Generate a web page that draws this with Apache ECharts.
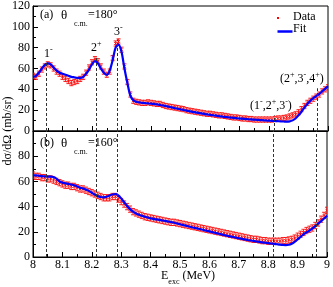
<!DOCTYPE html>
<html><head><meta charset="utf-8">
<script src="https://cdn.jsdelivr.net/npm/echarts@6/dist/echarts.min.js"></script>
<style>html,body{margin:0;padding:0;background:#fff}#c{width:333px;height:287px}</style>
</head><body><div id="c"></div>
<script>
// Excitation energies (MeV)
const energies = [8.00,8.01,8.02,8.03,8.04,8.05,8.06,8.07,8.08,8.09,
8.10,8.11,8.12,8.13,8.14,8.15,8.16,8.17,8.18,8.19,
8.20,8.21,8.22,8.23,8.24,8.25,8.26,8.27,8.28,8.29,
8.30,8.31,8.32,8.33,8.34,8.35,8.36,8.37,8.38,8.39,
8.40,8.41,8.42,8.43,8.44,8.45,8.46,8.47,8.48,8.49,
8.50,8.51,8.52,8.53,8.54,8.55,8.56,8.57,8.58,8.59,
8.60,8.61,8.62,8.63,8.64,8.65,8.66,8.67,8.68,8.69,
8.70,8.71,8.72,8.73,8.74,8.75,8.76,8.77,8.78,8.79,
8.80,8.81,8.82,8.83,8.84,8.85,8.86,8.87,8.88,8.89,
8.90,8.91,8.92,8.93,8.94,8.95,8.96,8.97,8.98,8.99,9.00];

// (a) theta_cm = 180 deg
const dataA = [53,52,55,59,62,64,63,60,57,55,
52,50,48,46,47,48,50,52,56,61,
66,69,67,62,57,54,57,70,84,86,
78,62,47,35,29,28,27.5,27,27,27.5,
27,26.5,26,26,25,24,23.5,23,22.5,22,
21.5,21,20,19.5,19,18.5,18,17.5,17,16.5,
16.5,16,15.5,15,15,14.5,14,13.5,13,13,
12.5,12,12,11.5,11.5,11,11,11,11,11,
11,11,11.5,12,12,12.5,13,14,15,16,
18,21,24,27,29,31,33,35,38,40,42];
const fitA = [52,53,56,60,63.5,65,64,61,58,56,
55,54,53,52,51.5,51,51,52,55,59,
64,67,65,60,56,54,58,68,80,83,
76,60,46,34,29.5,28,27.5,27,26.8,26.5,
26.3,26,25.5,25,24.5,24,23.3,22.7,22,21.4,
20.8,20.2,19.6,19,18.4,17.9,17.4,16.9,16.4,15.9,
15.5,15.1,14.7,14.3,13.9,13.5,13.2,12.9,12.6,12.3,
12,11.8,11.5,11.3,11.1,10.9,10.7,10.5,10.3,10.1,
10,9.8,9.6,9.4,9.2,9.1,9.0,9.3,10.2,12,
15,18.5,22.5,26,29,31.5,33.5,35.5,38,40.5,43];

// (b) theta_cm = 160 deg
const dataB = [65,64,64,63,63,62,62,61,60,59,
58,57,57,56,56,55,54,54,53,52,
51,50,49,48,47,47,47,48,48,46,
44,42,40,38,36,35,34,33,32,31.5,
31,30.5,30,29.5,29,28.5,28,27.5,27.5,27,
26.5,26,25.5,25,24.5,24,23.5,23,22.5,22,
21.5,21,20.5,20,19.5,19,18.5,18,17.5,17,
16.5,16,15.5,15,14.5,14,14,13.5,13,13,
12.5,12.5,12.5,12.5,12.5,13,13,13.5,14,15,
16.5,18,19.5,21,22,23,25,27,30,33,37];
const fitB = [65,64.8,64.5,64.2,64,63.8,63.8,63.5,62,60,
59,58.5,58,57.5,57,56,55,54.5,53.5,52.5,
51,49.5,48.3,47.6,47.4,47.8,48.8,49.6,50,49,
46.5,43.5,40.5,38,36,34.5,33.5,32.7,32,31.3,
30.7,30.2,29.8,29.4,29,28.6,28.2,27.7,27.2,26.6,
26,25.4,24.8,24.2,23.6,23.1,22.6,22,21.4,20.9,
20.3,19.7,19.2,18.6,18,17.5,16.9,16.4,15.9,15.4,
14.9,14.4,14,13.5,13.1,12.7,12.3,12,11.6,11.3,
11,10.7,10.4,10.1,9.8,9.6,9.5,9.7,10.5,12,
14,16,18,19.5,21,22.5,24.5,26.5,28.5,30.5,33];

const errA = 2.5, errB = 2.5;
const stateE = [8.046, 8.214, 8.286, 8.818, 8.965];
const guideTopA = [66, 72, 88, 15, 41];
const xTicks = ['8','8.1','8.2','8.3','8.4','8.5','8.6','8.7','8.8','8.9','9'];

const FONT = '"Liberation Serif", "DejaVu Serif", serif';
const chart = echarts.init(document.getElementById('c'), null, {renderer:'canvas'});

function pts(vals, err) { return energies.map((e,i)=>[e, vals[i], err]); }
function line(vals) { return energies.map((e,i)=>[e, vals[i]]); }

function renderErr(params, api) {
  const x = api.value(0), y = api.value(1), e = api.value(2);
  const p = api.coord([x,y]), lo = api.coord([x,y-e]), hi = api.coord([x,y+e]);
  const st = {stroke:'rgba(255,0,0,0.85)', lineWidth:1};
  return {type:'group', children:[
    {type:'line', shape:{x1:p[0],y1:lo[1],x2:p[0],y2:hi[1]}, style:st},
    {type:'line', shape:{x1:p[0]-2,y1:lo[1],x2:p[0]+2,y2:lo[1]}, style:st},
    {type:'line', shape:{x1:p[0]-2,y1:hi[1],x2:p[0]+2,y2:hi[1]}, style:st},
    {type:'line', shape:{x1:p[0]-1.5,y1:p[1]-1.5,x2:p[0]+1.5,y2:p[1]+1.5}, style:st},
    {type:'line', shape:{x1:p[0]-1.5,y1:p[1]+1.5,x2:p[0]+1.5,y2:p[1]-1.5}, style:st}
  ]};
}

const axisCommon = {
  axisLine:{show:true, lineStyle:{color:'#000', width:1}},
  axisTick:{show:true, inside:true, length:5, lineStyle:{color:'#000'}},
  minorTick:{show:true, splitNumber:2, length:3, lineStyle:{color:'#000'}},
  splitLine:{show:false},
  axisLabel:{color:'#000', fontFamily:FONT, fontSize:12}
};

function xAx(gi, showLabels) {
  return Object.assign({}, axisCommon, {
    type:'value', gridIndex:gi, min:8, max:9, interval:0.1,
    axisLabel:Object.assign({}, axisCommon.axisLabel, {show:showLabels, margin:2,
      formatter:(v)=> xTicks[Math.round((v-8)*10)] })
  });
}
function yAx(gi, max, showMax) {
  return Object.assign({}, axisCommon, {
    type:'value', gridIndex:gi, min:0, max:max, interval:20,
    axisLabel:Object.assign({}, axisCommon.axisLabel, {margin:3, showMaxLabel:showMax})
  });
}

const dashStyle = {type:[3,2], color:'#333', width:1};
function guides(top) {
  return stateE.map((e,i)=>[{coord:[e,0]},{coord:[e, top[i]]}]);
}

const rich = {
  n:{fontFamily:FONT, fontSize:12, color:'#000', lineHeight:16, verticalAlign:'middle'},
  s:{fontFamily:FONT, fontSize:8, color:'#000', lineHeight:8, verticalAlign:'top'}
};
function txt(x, y, t, extra) {
  return Object.assign({type:'text', left:x, top:y, z:100,
    style:{text:t, fill:'#000', font:'12px '+FONT}}, extra||{});
}
function rtxt(x, y, t) {
  return {type:'text', left:x, top:y, z:100, style:{text:t, rich:rich}};
}

chart.setOption({
  animation:false,
  grid:[
    {left:33, right:5, top:5, height:126, show:true, borderColor:'#000', borderWidth:1, backgroundColor:'transparent'},
    {left:33, right:5, top:131, height:126, show:true, borderColor:'#000', borderWidth:1, backgroundColor:'transparent'}
  ],
  xAxis:[xAx(0,false), xAx(1,true)],
  yAxis:[yAx(0,120,true), yAx(1,100,false)],
  series:[
    {type:'line', xAxisIndex:0, yAxisIndex:0, data:[], z:1, silent:true,
      markLine:{symbol:'none', silent:true, label:{show:false}, lineStyle:dashStyle, data:guides(guideTopA)}},
    {type:'line', xAxisIndex:1, yAxisIndex:1, data:[], z:1, silent:true,
      markLine:{symbol:'none', silent:true, label:{show:false}, lineStyle:dashStyle, data:guides(stateE.map(()=>100))}},
    {name:'Data', type:'custom', xAxisIndex:0, yAxisIndex:0, data:pts(dataA, errA), renderItem:renderErr, z:2, clip:true},
    {name:'Data', type:'custom', xAxisIndex:1, yAxisIndex:1, data:pts(dataB, errB), renderItem:renderErr, z:2, clip:true},
    {name:'Fit', type:'line', xAxisIndex:0, yAxisIndex:0, data:line(fitA), smooth:0.3, showSymbol:false, z:3,
      lineStyle:{color:'#0000ff', width:2.2}},
    {name:'Fit', type:'line', xAxisIndex:1, yAxisIndex:1, data:line(fitB), smooth:0.3, showSymbol:false, z:3,
      lineStyle:{color:'#0000ff', width:2.2}}
  ],
  graphic:[
    txt(40, 9, '(a)'),
    txt(61, 9, 'θ', {style:{text:'θ', fill:'#000', font:'13px '+FONT}}),
    txt(74, 20, 'c.m.', {style:{text:'c.m.', fill:'#000', font:'8px '+FONT}}),
    txt(88, 9, '=180°'),
    txt(40, 137, '(b)'),
    txt(61, 137, 'θ', {style:{text:'θ', fill:'#000', font:'13px '+FONT}}),
    txt(74, 148, 'c.m.', {style:{text:'c.m.', fill:'#000', font:'8px '+FONT}}),
    txt(88, 137, '=160°'),
    rtxt(44, 46, '{n|1}{s|-}'),
    rtxt(91, 40, '{n|2}{s|+}'),
    rtxt(114, 24, '{n|3}{s|-}'),
    rtxt(250, 98, '{n|(1}{s|-}{n|,2}{s|+}{n|,3}{s|-}{n|)}'),
    rtxt(280, 71, '{n|(2}{s|+}{n|,3}{s|-}{n|,4}{s|+}{n|)}'),
    // legend
    {type:'rect', left:277, top:17, z:100, shape:{width:2, height:2}, style:{fill:'#ff0000'}},
    txt(293, 11, 'Data'),
    {type:'line', left:275, top:29, z:100, shape:{x1:0,y1:0,x2:15,y2:0}, style:{stroke:'#0000ff', lineWidth:2.5}},
    txt(293, 23, 'Fit'),
    // axis titles
    {type:'text', x:2, y:131, rotation:Math.PI/2, z:100,
      style:{text:'dσ/dΩ (mb/sr)', fill:'#000', font:'12px '+FONT, align:'center', verticalAlign:'top'}},
    {type:'text', left:161, top:270, z:100, style:{text:'{e|E}{x|exc}{e| (MeV)}', rich:{
      e:{fontFamily:FONT, fontSize:12, color:'#000', lineHeight:16, verticalAlign:'top'},
      x:{fontFamily:FONT, fontSize:8, color:'#000', lineHeight:10, verticalAlign:'bottom'}}}}
  ]
});
</script></body></html>
